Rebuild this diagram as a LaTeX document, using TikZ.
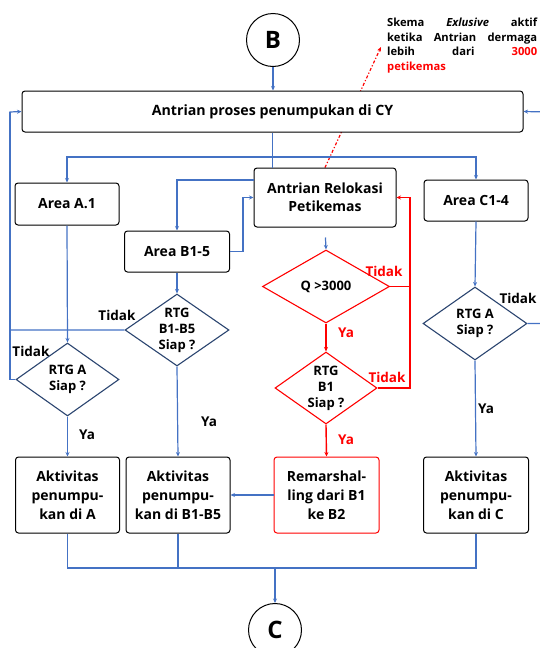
\documentclass[tikz,border=0pt]{standalone}
\usepackage{fontspec}
\setmainfont{Open Sans}
\usetikzlibrary{arrows.meta,shapes.geometric,calc}
\definecolor{lblue}{HTML}{4472C4}
\definecolor{navy}{HTML}{2B4570}
\definecolor{rred}{HTML}{FF0000}
\pgfdeclarelayer{bg}
\pgfsetlayers{bg,main}
\begin{document}
\begin{tikzpicture}[x=1pt,y=-1pt,
  box/.style={draw=black,line width=1pt,rounded corners=3pt,fill=white,align=center,inner sep=0pt,
    font=\fontsize{14}{19}\selectfont\bfseries},
  rbox/.style={box,draw=rred},
  dia/.style={diamond,draw=navy,line width=1.1pt,inner sep=0pt,fill=white},
  rdia/.style={dia,draw=rred},
  dtext/.style={align=center,inner sep=0pt,font=\fontsize{13}{16}\selectfont\bfseries},
  circ/.style={circle,draw=black,line width=1pt,minimum size=53pt,inner sep=0pt,fill=white,
    font=\fontsize{24}{26}\selectfont\bfseries},
  bl/.style={draw=lblue,line width=1.2pt},
  rd/.style={draw=rred,line width=1.4pt},
  arr/.style={-{Stealth[length=4.5pt,width=4pt]}},
  lab/.style={inner sep=0pt,font=\fontsize{13.5}{15}\selectfont\bfseries},
  rlab/.style={lab,text=rred}]
\useasboundingbox (0,0) rectangle (540,648);
\begin{scope}
\clip (0,0) rectangle (540,648);
% nodes
\node[circ] (B) at (273,40) {B};
\node[box,minimum width=501pt,minimum height=41pt,font=\fontsize{14.2}{16}\selectfont\bfseries] (main) at (272.5,111.5) {Antrian proses penumpukan di CY};
\node[box,minimum width=104pt,minimum height=42pt] (a1) at (67,204) {Area A.1};
\node[box,minimum width=105pt,minimum height=41pt] (b15) at (177,251.5) {Area B1-5};
\node[box,minimum width=142pt,minimum height=59pt,font=\fontsize{14}{18}\selectfont\bfseries] (reloc) at (325,197.5) {Antrian Relokasi\\Petikemas};
\node[box,minimum width=104pt,minimum height=41pt] (c14) at (476,200.5) {Area C1-4};
\node[rdia,minimum width=127pt,minimum height=73pt] (q) at (326,286.5) {};
\node[dtext] at (q) {Q >3000};
\node[rdia,minimum width=102pt,minimum height=72pt] (rb1) at (326,388) {};
\node[dtext] at (rb1) {RTG\\B1\\Siap ?};
\node[dia,minimum width=104pt,minimum height=72pt] (d15) at (177,330) {};
\node[dtext] at (d15) {RTG\\B1-B5\\Siap ?};
\node[dia,minimum width=103pt,minimum height=73pt] (da) at (67.5,379.5) {};
\node[dtext] at (da) {RTG A\\Siap ?};
\node[dia,minimum width=104pt,minimum height=73pt] (dc) at (475,323.5) {};
\node[dtext] at (dc) {RTG A\\Siap ?};
\node[box,minimum width=104pt,minimum height=76pt] (acta) at (67.5,495) {Aktivitas\\penumpu-\\kan di A};
\node[box,minimum width=104pt,minimum height=76pt] (actb) at (178,495) {Aktivitas\\penumpu-\\kan di B1-B5};
\node[rbox,minimum width=105pt,minimum height=76pt] (rem) at (326.5,495) {Remarshal-\\ling dari B1\\ke B2};
\node[box,minimum width=105pt,minimum height=76pt] (actc) at (476,495) {Aktivitas\\penumpu-\\kan di C};
\node[circ] (C) at (275,630) {C};
% annotation
\node[anchor=north west,inner sep=0pt,align=left,font=\fontsize{11.2}{14.5}\selectfont\bfseries] (note) at (387,18)
 {\hbox to 150pt{Skema\hfill\textit{Exlusive}\hfill aktif}\\
  \hbox to 150pt{ketika\hfill Antrian\hfill dermaga}\\
  \hbox to 150pt{lebih\hfill dari\hfill\textcolor{rred}{3000}}\\
  \textcolor{rred}{petikemas}};
\coordinate (an) at (381,47);
\begin{pgfonlayer}{bg}
\draw[rd,line width=1.2pt,dash dot,arr] (reloc.north) -- (an);
\end{pgfonlayer}
% coordinates
\coordinate (bus) at (272.5,157);
\coordinate (lft) at (10,112);
\coordinate (rgt) at (548,112);
\coordinate (bb) at (275,568);
% blue connectors
\draw[bl,arr] (B) -- (B |- main.north);
\draw[bl] (main.south) -- (main.south |- reloc.north);
\draw[bl,arr] (bus) -| (a1.north);
\draw[bl,arr] (bus) -| (c14.north);
\draw[bl,arr] (reloc.west |- 0,180) -| (b15.north);
\draw[bl,arr] (b15.east) -- ++(13,0) |- (reloc.west);
\draw[bl,arr,shorten <=10pt] (reloc.south) -- (q.north);
\draw[bl,arr] (b15.south) -- (d15.north);
\draw[bl,arr] (d15.west) -| (lft) -- (main.west);
\draw[bl] (da.west) -| (lft);
\draw[bl,arr] (a1.south) -- (da.north);
\draw[bl,arr] (da.south) -- (acta.north);
\draw[bl,arr] (d15.south) -- (actb.north);
\draw[bl,arr] (c14.south) -- (dc.north);
\draw[bl,arr] (dc.south) -- (actc.north);
\draw[bl,arr] (dc.east) -| (rgt) -- (main.east);
\draw[bl,arr] (rem.west) -- (actb.east);
\draw[bl] (acta.south) |- (bb) -| (actc.south);
\draw[bl] (actb.south) -- (actb.south |- bb);
\draw[bl,arr] (bb) -- (C.north);
% red connectors
\coordinate (rv) at ($(q.east)+(20,0)$);
\draw[rd,arr] (q.east) -- (rv) |- (reloc.east);
\draw[rd] (rb1.east) -| (rv);
\draw[rd,arr] (q.south) -- (rb1.north);
\draw[rd,arr] (rb1.south) -- (rem.north);
% labels
\node[rlab] (t1) at (384,271) {Tidak};
\node[rlab] (y1) at (346,333) {Ya};
\node[rlab] (t2) at (387,377) {Tidak};
\node[rlab] (y2) at (346,440) {Ya};
\node[lab] (t3) at (117,315) {Tidak};
\node[lab] (t4) at (31,351) {Tidak};
\node[lab] (y3) at (87,435) {Ya};
\node[lab] (y4) at (209,422) {Ya};
\node[lab] (t5) at (518,298) {Tidak};
\node[lab] (y5) at (486,409) {Ya};
\end{scope}
\end{tikzpicture}
\end{document}
